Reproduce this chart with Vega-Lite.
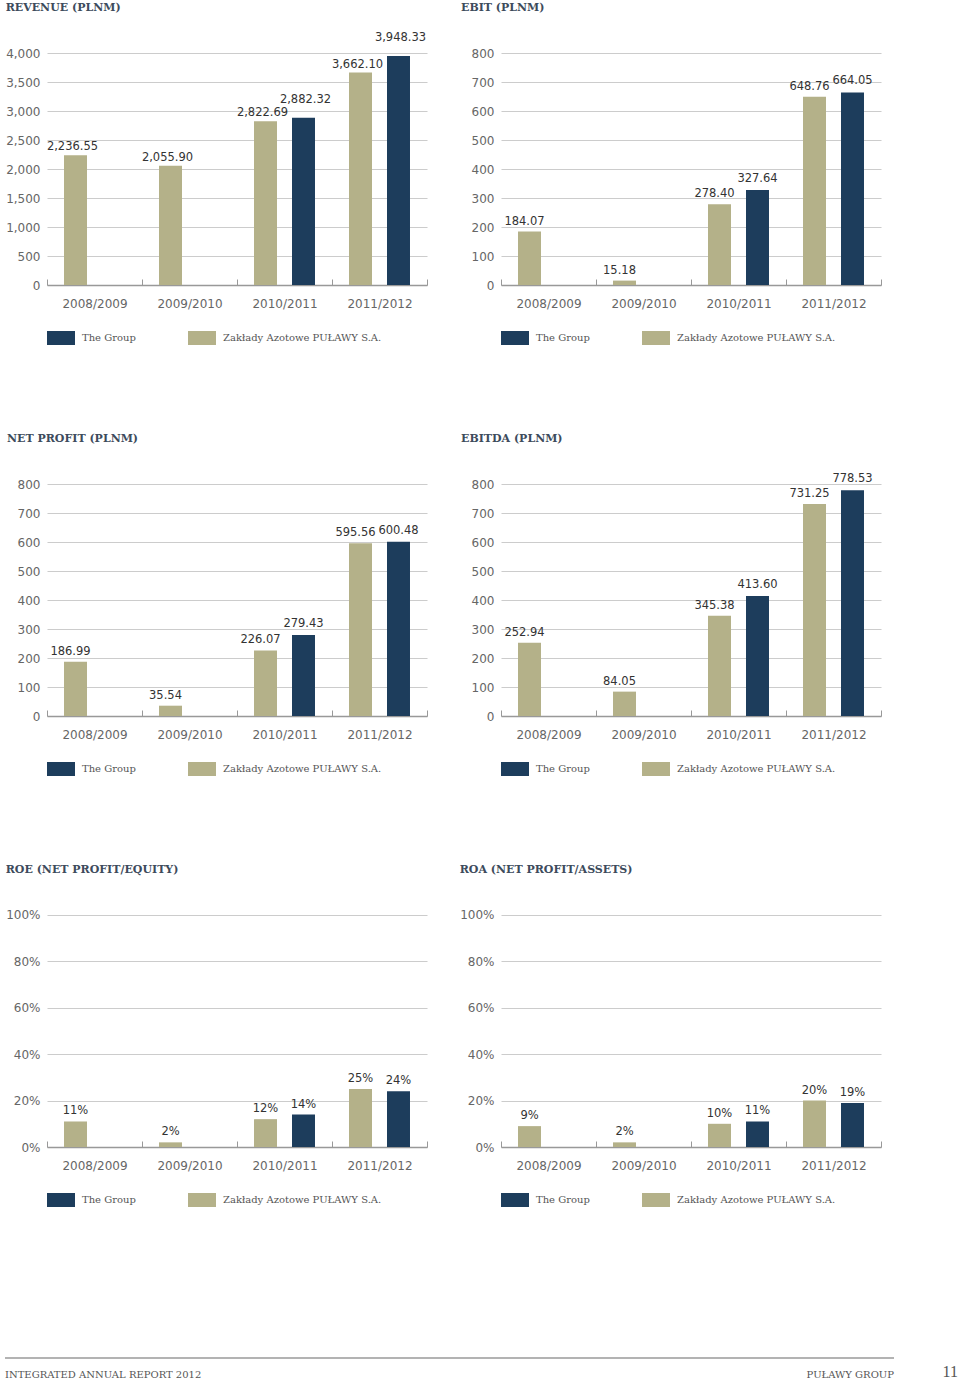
{
  "$schema": "https://vega.github.io/schema/vega-lite/v6.json",
  "padding": {"left": 4, "top": 2, "right": 0, "bottom": 0},
  "background": "white",
  "datasets": {
    "kpi": [
      {"metric": "Revenue", "year": "2008/2009", "entity": "Zakłady Azotowe PUŁAWY S.A.", "value": 2236.55},
      {"metric": "Revenue", "year": "2009/2010", "entity": "Zakłady Azotowe PUŁAWY S.A.", "value": 2055.90},
      {"metric": "Revenue", "year": "2010/2011", "entity": "Zakłady Azotowe PUŁAWY S.A.", "value": 2822.69},
      {"metric": "Revenue", "year": "2010/2011", "entity": "The Group", "value": 2882.32},
      {"metric": "Revenue", "year": "2011/2012", "entity": "Zakłady Azotowe PUŁAWY S.A.", "value": 3662.10},
      {"metric": "Revenue", "year": "2011/2012", "entity": "The Group", "value": 3948.33},
      {"metric": "EBIT", "year": "2008/2009", "entity": "Zakłady Azotowe PUŁAWY S.A.", "value": 184.07},
      {"metric": "EBIT", "year": "2009/2010", "entity": "Zakłady Azotowe PUŁAWY S.A.", "value": 15.18},
      {"metric": "EBIT", "year": "2010/2011", "entity": "Zakłady Azotowe PUŁAWY S.A.", "value": 278.40},
      {"metric": "EBIT", "year": "2010/2011", "entity": "The Group", "value": 327.64},
      {"metric": "EBIT", "year": "2011/2012", "entity": "Zakłady Azotowe PUŁAWY S.A.", "value": 648.76},
      {"metric": "EBIT", "year": "2011/2012", "entity": "The Group", "value": 664.05},
      {"metric": "Net profit", "year": "2008/2009", "entity": "Zakłady Azotowe PUŁAWY S.A.", "value": 186.99},
      {"metric": "Net profit", "year": "2009/2010", "entity": "Zakłady Azotowe PUŁAWY S.A.", "value": 35.54},
      {"metric": "Net profit", "year": "2010/2011", "entity": "Zakłady Azotowe PUŁAWY S.A.", "value": 226.07},
      {"metric": "Net profit", "year": "2010/2011", "entity": "The Group", "value": 279.43},
      {"metric": "Net profit", "year": "2011/2012", "entity": "Zakłady Azotowe PUŁAWY S.A.", "value": 595.56},
      {"metric": "Net profit", "year": "2011/2012", "entity": "The Group", "value": 600.48},
      {"metric": "EBITDA", "year": "2008/2009", "entity": "Zakłady Azotowe PUŁAWY S.A.", "value": 252.94},
      {"metric": "EBITDA", "year": "2009/2010", "entity": "Zakłady Azotowe PUŁAWY S.A.", "value": 84.05},
      {"metric": "EBITDA", "year": "2010/2011", "entity": "Zakłady Azotowe PUŁAWY S.A.", "value": 345.38},
      {"metric": "EBITDA", "year": "2010/2011", "entity": "The Group", "value": 413.60},
      {"metric": "EBITDA", "year": "2011/2012", "entity": "Zakłady Azotowe PUŁAWY S.A.", "value": 731.25},
      {"metric": "EBITDA", "year": "2011/2012", "entity": "The Group", "value": 778.53},
      {"metric": "ROE", "year": "2008/2009", "entity": "Zakłady Azotowe PUŁAWY S.A.", "value": 0.11},
      {"metric": "ROE", "year": "2009/2010", "entity": "Zakłady Azotowe PUŁAWY S.A.", "value": 0.02},
      {"metric": "ROE", "year": "2010/2011", "entity": "Zakłady Azotowe PUŁAWY S.A.", "value": 0.12},
      {"metric": "ROE", "year": "2010/2011", "entity": "The Group", "value": 0.14},
      {"metric": "ROE", "year": "2011/2012", "entity": "Zakłady Azotowe PUŁAWY S.A.", "value": 0.25},
      {"metric": "ROE", "year": "2011/2012", "entity": "The Group", "value": 0.24},
      {"metric": "ROA", "year": "2008/2009", "entity": "Zakłady Azotowe PUŁAWY S.A.", "value": 0.09},
      {"metric": "ROA", "year": "2009/2010", "entity": "Zakłady Azotowe PUŁAWY S.A.", "value": 0.02},
      {"metric": "ROA", "year": "2010/2011", "entity": "Zakłady Azotowe PUŁAWY S.A.", "value": 0.10},
      {"metric": "ROA", "year": "2010/2011", "entity": "The Group", "value": 0.11},
      {"metric": "ROA", "year": "2011/2012", "entity": "Zakłady Azotowe PUŁAWY S.A.", "value": 0.20},
      {"metric": "ROA", "year": "2011/2012", "entity": "The Group", "value": 0.19}
    ],
    "footer": [
      {"left": "INTEGRATED ANNUAL REPORT 2012", "right": "PUŁAWY GROUP", "page": "11"}
    ]
  },
  "spacing": 150,
  "resolve": {"scale": {"color": "independent"}, "legend": {"color": "independent"}},
  "vconcat": [
    {
      "columns": 2,
      "spacing": {"row": 88, "column": 31},
      "resolve": {"scale": {"color": "independent", "x": "independent", "y": "independent", "xOffset": "independent"}, "legend": {"color": "independent"}},
      "concat": [
        {
          "title": "REVENUE (PLNM)",
          "width": 380, "height": 256,
          "data": {"name": "kpi"},
          "transform": [{"filter": {"field": "metric", "equal": "Revenue"}}],
          "encoding": {
            "x": {"field": "year", "type": "nominal", "scale": {"paddingInner": 0, "paddingOuter": 0}, "axis": {"title": null}},
            "xOffset": {"field": "entity", "type": "nominal", "scale": {"domain": ["Zakłady Azotowe PUŁAWY S.A.", "The Group"], "paddingInner": 0.395, "paddingOuter": 0.4475}},
            "y": {"field": "value", "type": "quantitative", "scale": {"domain": [0, 4414], "nice": false}, "axis": {"title": null, "values": [0, 500, 1000, 1500, 2000, 2500, 3000, 3500, 4000], "format": ",d"}}
          },
          "layer": [
            {"mark": {"type": "bar"}, "encoding": {"color": {"field": "entity", "type": "nominal", "scale": {"domain": ["The Group", "Zakłady Azotowe PUŁAWY S.A."], "range": ["#1d3d5c", "#b4b189"]}, "legend": {"title": null}}}},
            {"transform": [{"filter": {"field": "entity", "equal": "Zakłady Azotowe PUŁAWY S.A."}}], "mark": {"type": "text", "baseline": "bottom", "dy": -3, "dx": -3, "font": "DejaVu Sans", "fontSize": 11.5, "color": "#333333"}, "encoding": {"text": {"field": "value", "type": "quantitative", "format": ",.2f"}}},
            {"transform": [{"filter": {"field": "entity", "equal": "The Group"}}], "mark": {"type": "text", "baseline": "bottom", "dy": -13, "dx": 2, "font": "DejaVu Sans", "fontSize": 11.5, "color": "#333333"}, "encoding": {"text": {"field": "value", "type": "quantitative", "format": ",.2f"}}}
          ]
        },
        {
          "title": "EBIT (PLNM)",
          "width": 380, "height": 256,
          "data": {"name": "kpi"},
          "transform": [{"filter": {"field": "metric", "equal": "EBIT"}}],
          "encoding": {
            "x": {"field": "year", "type": "nominal", "scale": {"paddingInner": 0, "paddingOuter": 0}, "axis": {"title": null}},
            "xOffset": {"field": "entity", "type": "nominal", "scale": {"domain": ["Zakłady Azotowe PUŁAWY S.A.", "The Group"], "paddingInner": 0.395, "paddingOuter": 0.4475}},
            "y": {"field": "value", "type": "quantitative", "scale": {"domain": [0, 882.8], "nice": false}, "axis": {"title": null, "values": [0, 100, 200, 300, 400, 500, 600, 700, 800], "format": "d"}}
          },
          "layer": [
            {"mark": {"type": "bar"}, "encoding": {"color": {"field": "entity", "type": "nominal", "scale": {"domain": ["The Group", "Zakłady Azotowe PUŁAWY S.A."], "range": ["#1d3d5c", "#b4b189"]}, "legend": {"title": null}}}},
            {"transform": [{"filter": {"field": "entity", "equal": "Zakłady Azotowe PUŁAWY S.A."}}], "mark": {"type": "text", "baseline": "bottom", "dy": -5, "dx": -5, "font": "DejaVu Sans", "fontSize": 11.5, "color": "#333333"}, "encoding": {"text": {"field": "value", "type": "quantitative", "format": ",.2f"}}},
            {"transform": [{"filter": {"field": "entity", "equal": "The Group"}}], "mark": {"type": "text", "baseline": "bottom", "dy": -6, "dx": 0, "font": "DejaVu Sans", "fontSize": 11.5, "color": "#333333"}, "encoding": {"text": {"field": "value", "type": "quantitative", "format": ",.2f"}}}
          ]
        },
        {
          "title": "NET PROFIT (PLNM)",
          "width": 380, "height": 256,
          "data": {"name": "kpi"},
          "transform": [{"filter": {"field": "metric", "equal": "Net profit"}}],
          "encoding": {
            "x": {"field": "year", "type": "nominal", "scale": {"paddingInner": 0, "paddingOuter": 0}, "axis": {"title": null}},
            "xOffset": {"field": "entity", "type": "nominal", "scale": {"domain": ["Zakłady Azotowe PUŁAWY S.A.", "The Group"], "paddingInner": 0.395, "paddingOuter": 0.4475}},
            "y": {"field": "value", "type": "quantitative", "scale": {"domain": [0, 882.8], "nice": false}, "axis": {"title": null, "values": [0, 100, 200, 300, 400, 500, 600, 700, 800], "format": "d"}}
          },
          "layer": [
            {"mark": {"type": "bar"}, "encoding": {"color": {"field": "entity", "type": "nominal", "scale": {"domain": ["The Group", "Zakłady Azotowe PUŁAWY S.A."], "range": ["#1d3d5c", "#b4b189"]}, "legend": {"title": null}}}},
            {"transform": [{"filter": {"field": "entity", "equal": "Zakłady Azotowe PUŁAWY S.A."}}], "mark": {"type": "text", "baseline": "bottom", "dy": -5, "dx": -5, "font": "DejaVu Sans", "fontSize": 11.5, "color": "#333333"}, "encoding": {"text": {"field": "value", "type": "quantitative", "format": ",.2f"}}},
            {"transform": [{"filter": {"field": "entity", "equal": "The Group"}}], "mark": {"type": "text", "baseline": "bottom", "dy": -6, "dx": 0, "font": "DejaVu Sans", "fontSize": 11.5, "color": "#333333"}, "encoding": {"text": {"field": "value", "type": "quantitative", "format": ",.2f"}}}
          ]
        },
        {
          "title": "EBITDA (PLNM)",
          "width": 380, "height": 256,
          "data": {"name": "kpi"},
          "transform": [{"filter": {"field": "metric", "equal": "EBITDA"}}],
          "encoding": {
            "x": {"field": "year", "type": "nominal", "scale": {"paddingInner": 0, "paddingOuter": 0}, "axis": {"title": null}},
            "xOffset": {"field": "entity", "type": "nominal", "scale": {"domain": ["Zakłady Azotowe PUŁAWY S.A.", "The Group"], "paddingInner": 0.395, "paddingOuter": 0.4475}},
            "y": {"field": "value", "type": "quantitative", "scale": {"domain": [0, 882.8], "nice": false}, "axis": {"title": null, "values": [0, 100, 200, 300, 400, 500, 600, 700, 800], "format": "d"}}
          },
          "layer": [
            {"mark": {"type": "bar"}, "encoding": {"color": {"field": "entity", "type": "nominal", "scale": {"domain": ["The Group", "Zakłady Azotowe PUŁAWY S.A."], "range": ["#1d3d5c", "#b4b189"]}, "legend": {"title": null}}}},
            {"transform": [{"filter": {"field": "entity", "equal": "Zakłady Azotowe PUŁAWY S.A."}}], "mark": {"type": "text", "baseline": "bottom", "dy": -5, "dx": -5, "font": "DejaVu Sans", "fontSize": 11.5, "color": "#333333"}, "encoding": {"text": {"field": "value", "type": "quantitative", "format": ",.2f"}}},
            {"transform": [{"filter": {"field": "entity", "equal": "The Group"}}], "mark": {"type": "text", "baseline": "bottom", "dy": -6, "dx": 0, "font": "DejaVu Sans", "fontSize": 11.5, "color": "#333333"}, "encoding": {"text": {"field": "value", "type": "quantitative", "format": ",.2f"}}}
          ]
        },
        {
          "title": "ROE (NET PROFIT/EQUITY)",
          "width": 380, "height": 256,
          "data": {"name": "kpi"},
          "transform": [{"filter": {"field": "metric", "equal": "ROE"}}],
          "encoding": {
            "x": {"field": "year", "type": "nominal", "scale": {"paddingInner": 0, "paddingOuter": 0}, "axis": {"title": null}},
            "xOffset": {"field": "entity", "type": "nominal", "scale": {"domain": ["Zakłady Azotowe PUŁAWY S.A.", "The Group"], "paddingInner": 0.395, "paddingOuter": 0.4475}},
            "y": {"field": "value", "type": "quantitative", "scale": {"domain": [0, 1.1034], "nice": false}, "axis": {"title": null, "values": [0, 0.2, 0.4, 0.6, 0.8, 1], "format": ".0%"}}
          },
          "layer": [
            {"mark": {"type": "bar"}, "encoding": {"color": {"field": "entity", "type": "nominal", "scale": {"domain": ["The Group", "Zakłady Azotowe PUŁAWY S.A."], "range": ["#1d3d5c", "#b4b189"]}, "legend": {"title": null}}}},
            {"mark": {"type": "text", "baseline": "bottom", "dy": -5, "font": "DejaVu Sans", "fontSize": 11.5, "color": "#333333"}, "encoding": {"text": {"field": "value", "type": "quantitative", "format": ".0%"}}}
          ]
        },
        {
          "title": "ROA (NET PROFIT/ASSETS)",
          "width": 380, "height": 256,
          "data": {"name": "kpi"},
          "transform": [{"filter": {"field": "metric", "equal": "ROA"}}],
          "encoding": {
            "x": {"field": "year", "type": "nominal", "scale": {"paddingInner": 0, "paddingOuter": 0}, "axis": {"title": null}},
            "xOffset": {"field": "entity", "type": "nominal", "scale": {"domain": ["Zakłady Azotowe PUŁAWY S.A.", "The Group"], "paddingInner": 0.395, "paddingOuter": 0.4475}},
            "y": {"field": "value", "type": "quantitative", "scale": {"domain": [0, 1.1034], "nice": false}, "axis": {"title": null, "values": [0, 0.2, 0.4, 0.6, 0.8, 1], "format": ".0%"}}
          },
          "layer": [
            {"mark": {"type": "bar"}, "encoding": {"color": {"field": "entity", "type": "nominal", "scale": {"domain": ["The Group", "Zakłady Azotowe PUŁAWY S.A."], "range": ["#1d3d5c", "#b4b189"]}, "legend": {"title": null}}}},
            {"mark": {"type": "text", "baseline": "bottom", "dy": -5, "font": "DejaVu Sans", "fontSize": 11.5, "color": "#333333"}, "encoding": {"text": {"field": "value", "type": "quantitative", "format": ".0%"}}}
          ]
        }
      ]
    },
    {
      "width": 847, "height": 17,
      "data": {"name": "footer"},
      "layer": [
        {"mark": {"type": "rule", "color": "#9a9a9a", "strokeWidth": 1.5}, "encoding": {"x": {"value": -42}, "x2": {"value": "width"}, "y": {"value": 0}}},
        {"mark": {"type": "text", "align": "left", "baseline": "middle", "dx": -42, "font": "DejaVu Serif", "fontSize": 10, "color": "#555555"}, "encoding": {"text": {"field": "left"}, "x": {"value": 0}, "y": {"value": "height"}}},
        {"mark": {"type": "text", "align": "right", "baseline": "middle", "font": "DejaVu Serif", "fontSize": 10, "color": "#555555"}, "encoding": {"text": {"field": "right"}, "x": {"value": "width"}, "y": {"value": "height"}}},
        {"mark": {"type": "text", "align": "right", "baseline": "middle", "dx": 64, "dy": -3, "font": "Liberation Serif", "fontSize": 16, "color": "#555555"}, "encoding": {"text": {"field": "page"}, "x": {"value": "width"}, "y": {"value": "height"}}}
      ]
    }
  ],
  "config": {
    "view": {"stroke": null},
    "axis": {"labelFont": "DejaVu Sans", "labelFontSize": 12, "labelColor": "#666666", "title": null},
    "axisY": {"grid": true, "gridColor": "#cccccc", "gridWidth": 1.2, "domain": false, "ticks": false, "labelPadding": 7, "minExtent": 40, "maxExtent": 40},
    "axisX": {"grid": false, "domainColor": "#999999", "domainWidth": 1.5, "tickColor": "#999999", "tickWidth": 1, "labelAngle": 0, "tickBand": "extent", "tickSize": -6, "labelPadding": 19},
    "title": {"font": "DejaVu Serif", "fontSize": 11, "fontWeight": "bold", "color": "#3d4b5c", "anchor": "start", "frame": "bounds", "offset": 16},
    "legend": {"orient": "bottom", "direction": "horizontal", "title": null, "symbolType": "M-1,-0.5H1V0.5H-1Z", "symbolSize": 784, "symbolStrokeWidth": 0, "symbolOpacity": 1, "labelFont": "DejaVu Serif", "labelFontSize": 10, "labelColor": "#555555", "labelOffset": 7, "columnPadding": 52, "offset": 15}
  }
}
